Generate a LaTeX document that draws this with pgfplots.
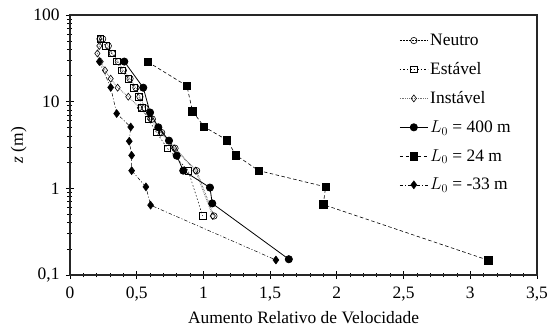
\documentclass[border=0pt]{standalone}
\usepackage{fontspec}
\setmainfont{Liberation Serif}
\usepackage{pgfplots}
\pgfplotsset{compat=1.18}
\begin{document}
\begin{tikzpicture}
\begin{axis}[
  scale only axis, width=467bp, height=260bp,
  xmin=0, xmax=3.5, ymin=0.1, ymax=100, ymode=log,
  font=\fontsize{17.5}{20}\selectfont,
  xtick={0,0.5,1,1.5,2,2.5,3,3.5},
  xticklabels={0,{0,5},1,{1,5},2,{2,5},3,{3,5}},
  minor x tick num=4,
  ytick={0.1,1,10,100},
  yticklabels={{0,1},1,10,100},
  tick pos=left, tick align=center,
  major tick length=8bp, minor tick length=5bp,
  every tick/.style={black, line width=0.8bp},
  axis line style={line width=1.2bp, black!85},
  xlabel={Aumento Relativo de Velocidade},
  ylabel={\textit{z} (m)},
  xlabel style={yshift=-4bp},
  xticklabel style={yshift=-4bp},
  yticklabel style={xshift=-3bp},
  legend style={draw=none, fill=none, at={(0.705,0.935)}, anchor=north west,
    font=\fontsize{17.5}{20}\selectfont, row sep=11.5bp, inner sep=0pt,
    cells={anchor=west}},
  legend image code/.code={\draw[mark repeat=2,mark phase=2,#1] plot coordinates {(0bp,0bp)(14bp,0bp)(28bp,0bp)};},
]
% Neutro
\addplot[black, densely dotted, line width=0.5bp, mark=o, mark size=3.2bp, mark options={solid, line width=0.6bp}] coordinates {
(0.245,53) (0.287,44) (0.317,36) (0.362,29) (0.40,23) (0.45,18.4) (0.494,14.5) (0.524,11.4) (0.562,8.5) (0.617,6.3) (0.687,4.4) (0.787,2.9) (0.949,1.6) (1.079,0.48)};
\addlegendentry{Neutro}
% Estavel
\addplot[black, dash pattern=on 1.5bp off 2bp, line width=0.5bp, mark=square, mark size=3.2bp, mark options={solid, line width=0.6bp}] coordinates {
(0.225,53) (0.267,44) (0.312,36) (0.35,29) (0.387,23) (0.437,18.4) (0.479,14.5) (0.517,11.4) (0.537,8.5) (0.587,6.3) (0.649,4.4) (0.729,2.9) (0.886,1.6) (0.994,0.48)};
\addlegendentry{Estável}
% Instavel
\addplot[black!55, densely dotted, line width=0.8bp, mark=diamond, mark size=3.5bp, mark options={solid, black, line width=0.6bp}] coordinates {
(0.22,53) (0.22,44) (0.205,36) (0.23,29) (0.262,23) (0.305,18.4) (0.357,14.5) (0.437,11.4) (0.524,8.5) (0.60,6.3) (0.68,4.4) (0.78,2.9) (0.94,1.6) (1.07,0.48)};
\addlegendentry{Instável}
% L0 = 400
\addplot[black, solid, line width=0.8bp, mark=*, mark size=3.6bp] coordinates {
(0.407,29) (0.549,14.5) (0.60,7.5) (0.662,5.06) (0.742,3.55) (0.80,2.38) (0.849,1.6) (1.049,1.02) (1.066,0.67) (1.64,0.152)};
\addlegendentry{$L_0$ = 400 m}
% L0 = 24
\addplot[black, dash pattern=on 3.5bp off 2.5bp, line width=0.6bp, mark=square*, mark size=3.8bp, mark options={solid}] coordinates {
(0.584,28.7) (0.876,15.2) (0.918,7.8) (1.004,5.14) (1.176,3.61) (1.243,2.42) (1.414,1.6) (1.916,1.04) (1.898,0.65) (3.135,0.148)};
\addlegendentry{$L_0$ = 24 m}
% L0 = -33
\addplot[black, dash pattern=on 3.5bp off 2bp on 1bp off 2bp, line width=0.5bp, mark=diamond*, mark size=4bp, mark options={solid}] coordinates {
(0.22,29) (0.305,14.6) (0.35,7.3) (0.455,5.1) (0.444,3.5) (0.462,2.4) (0.462,1.6) (0.569,1.04) (0.604,0.64) (1.543,0.149)};
\addlegendentry{$L_0$ = -33 m}
\end{axis}
\path (current axis.south west) ++(-70bp,-56bp) (current axis.north east) ++(18bp,15bp);
\end{tikzpicture}
\end{document}
